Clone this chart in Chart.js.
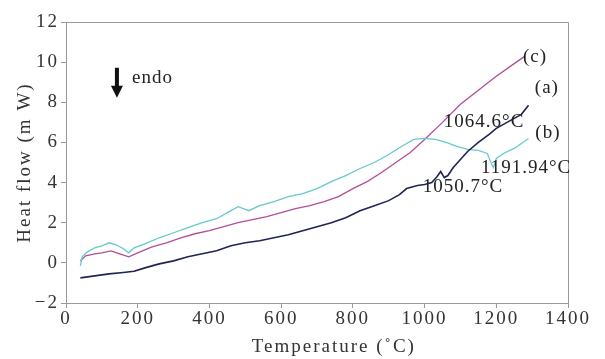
<!DOCTYPE html>
<html>
<head>
<meta charset="utf-8">
<script src="https://cdn.jsdelivr.net/npm/chart.js@4.4.1/dist/chart.umd.min.js"></script>
<style>
  html, body { margin: 0; padding: 0; background: #fff; }
</style>
</head>
<body>
<canvas id="dscChart" width="605" height="359"></canvas>
<script>
// curve (a) - dark navy
const aTemp = [40, 80, 120, 160, 190, 220, 260, 300, 340, 380, 420, 460, 500, 540, 580, 620, 660, 700, 740, 780, 820, 860, 900, 930, 950, 980, 1000, 1020, 1035, 1045, 1055, 1065, 1080, 1100, 1120, 1150, 1180, 1200, 1230, 1250, 1270, 1290];
const aFlow = [-0.75, -0.65, -0.55, -0.48, -0.42, -0.25, -0.05, 0.1, 0.3, 0.45, 0.6, 0.85, 1.0, 1.1, 1.25, 1.4, 1.6, 1.8, 2.0, 2.25, 2.6, 2.85, 3.1, 3.4, 3.7, 3.85, 3.9, 4.0, 4.3, 4.55, 4.25, 4.35, 4.75, 5.15, 5.55, 6.0, 6.4, 6.7, 7.0, 7.2, 7.4, 7.85];

// curve (b) - cyan
const bTemp = [40, 45, 60, 80, 100, 120, 140, 160, 175, 190, 220, 260, 300, 340, 380, 420, 460, 480, 510, 540, 580, 620, 660, 700, 740, 780, 820, 860, 900, 940, 970, 1000, 1030, 1060, 1090, 1120, 1150, 1175, 1185, 1192, 1200, 1220, 1250, 1270, 1290];
const bFlow = [-0.15, 0.3, 0.55, 0.75, 0.85, 1.0, 0.9, 0.7, 0.5, 0.75, 0.95, 1.25, 1.5, 1.75, 2.0, 2.2, 2.6, 2.8, 2.6, 2.85, 3.05, 3.3, 3.45, 3.7, 4.05, 4.35, 4.7, 5.0, 5.4, 5.85, 6.15, 6.2, 6.15, 6.0, 5.8, 5.65, 5.6, 5.45, 5.0, 4.75, 5.2, 5.45, 5.7, 5.95, 6.2];

// curve (c) - magenta
const cTemp = [40, 55, 80, 100, 125, 150, 175, 200, 240, 280, 320, 360, 400, 440, 480, 520, 560, 600, 640, 680, 720, 760, 800, 840, 880, 920, 960, 1000, 1050, 1100, 1150, 1200, 1240, 1280];
const cFlow = [0.1, 0.35, 0.45, 0.5, 0.6, 0.45, 0.3, 0.5, 0.8, 1.0, 1.25, 1.45, 1.6, 1.8, 2.0, 2.15, 2.3, 2.5, 2.7, 2.85, 3.05, 3.3, 3.7, 4.05, 4.5, 5.0, 5.5, 6.15, 7.0, 7.9, 8.6, 9.3, 9.8, 10.3];

// text notes, anchored in data units
const noteText = ['(c)', '(a)', '(b)', '1064.6°C', '1191.94°C', '1050.7°C'];
const noteTemp = [1308, 1341, 1344, 1166, 1283, 1107];
const noteFlow = [10.26, 8.72, 6.48, 7.03, 4.73, 3.79];

const serif = '"Liberation Serif", "Times New Roman", serif';

function toPoints(xs, ys) {
    return xs.map((x, i) => ({ x: x, y: ys[i] }));
}

// top + right frame, notes and the endo arrow
const extras = {
    id: 'extras',
    beforeLayout(chart) { chart.ctx.letterSpacing = '2px'; },
    beforeDraw(chart) { chart.ctx.letterSpacing = '2px'; },
    afterDatasetsDraw(chart) {
        const { ctx, chartArea: a, scales: { x, y } } = chart;
        ctx.save();
        ctx.strokeStyle = '#999';
        ctx.lineWidth = 1;
        ctx.beginPath();
        ctx.moveTo(a.left, a.top + 0.5);
        ctx.lineTo(a.right + 0.5, a.top + 0.5);
        ctx.lineTo(a.right + 0.5, a.bottom);
        ctx.stroke();

        ctx.fillStyle = '#222';
        ctx.font = '19px ' + serif;
        ctx.letterSpacing = '1px';
        ctx.textAlign = 'center';
        ctx.textBaseline = 'middle';
        noteText.forEach((t, i) => {
            ctx.fillText(t, x.getPixelForValue(noteTemp[i]), y.getPixelForValue(noteFlow[i]));
        });

        // endo arrow
        const ax = x.getPixelForValue(142);
        const top = y.getPixelForValue(9.72);
        const tip = y.getPixelForValue(8.22);
        ctx.fillStyle = '#111';
        ctx.fillRect(ax - 2, top, 4, tip - top - 10);
        ctx.beginPath();
        ctx.moveTo(ax - 6, tip - 12);
        ctx.lineTo(ax + 6, tip - 12);
        ctx.lineTo(ax, tip);
        ctx.closePath();
        ctx.fill();
        ctx.fillStyle = '#222';
        ctx.textAlign = 'left';
        ctx.fillText('endo', x.getPixelForValue(184), y.getPixelForValue(9.2));
        ctx.restore();
    }
};

const ctx = document.getElementById('dscChart').getContext('2d');

new Chart(ctx, {
    type: 'line',
    data: {
        datasets: [
            { label: '(a)', data: toPoints(aTemp, aFlow), borderColor: '#1f2355', borderWidth: 1.6 },
            { label: '(b)', data: toPoints(bTemp, bFlow), borderColor: '#66c9cc', borderWidth: 1.3 },
            { label: '(c)', data: toPoints(cTemp, cFlow), borderColor: '#b04f98', borderWidth: 1.3 }
        ]
    },
    options: {
        responsive: false,
        animation: false,
        devicePixelRatio: 1,
        layout: { padding: { left: 0, right: 37, top: 22, bottom: 0 } },
        elements: { point: { radius: 0 }, line: { tension: 0 } },
        plugins: { legend: { display: false }, tooltip: { enabled: false } },
        scales: {
            x: {
                type: 'linear',
                min: 0,
                max: 1400,
                afterFit: s => { s.height = 56; },
                ticks: {
                    stepSize: 200,
                    color: '#333',
                    font: { family: serif, size: 19 },
                    padding: 0,
                    maxRotation: 0,
                    callback: v => String(v)
                },
                grid: { drawOnChartArea: false, tickLength: 5, color: '#999' },
                border: { color: '#999' },
                title: { display: true, text: '     Temperature (˚C)', color: '#333', font: { family: serif, size: 19 }, padding: { top: 0, bottom: 1 } }
            },
            y: {
                min: -2,
                max: 12,
                afterFit: s => { s.width = 66; },
                ticks: {
                    stepSize: 2,
                    color: '#333',
                    font: { family: serif, size: 19 },
                    padding: 2,
                    callback: v => (v < 0 ? '−' + Math.abs(v) : String(v))
                },
                grid: { drawOnChartArea: false, tickLength: 5, color: '#999' },
                border: { color: '#999' },
                title: { display: true, text: 'Heat flow (m W)', color: '#333', font: { family: serif, size: 19 }, padding: { top: 14, bottom: 0 } }
            }
        }
    },
    plugins: [extras]
});
</script>
</body>
</html>
